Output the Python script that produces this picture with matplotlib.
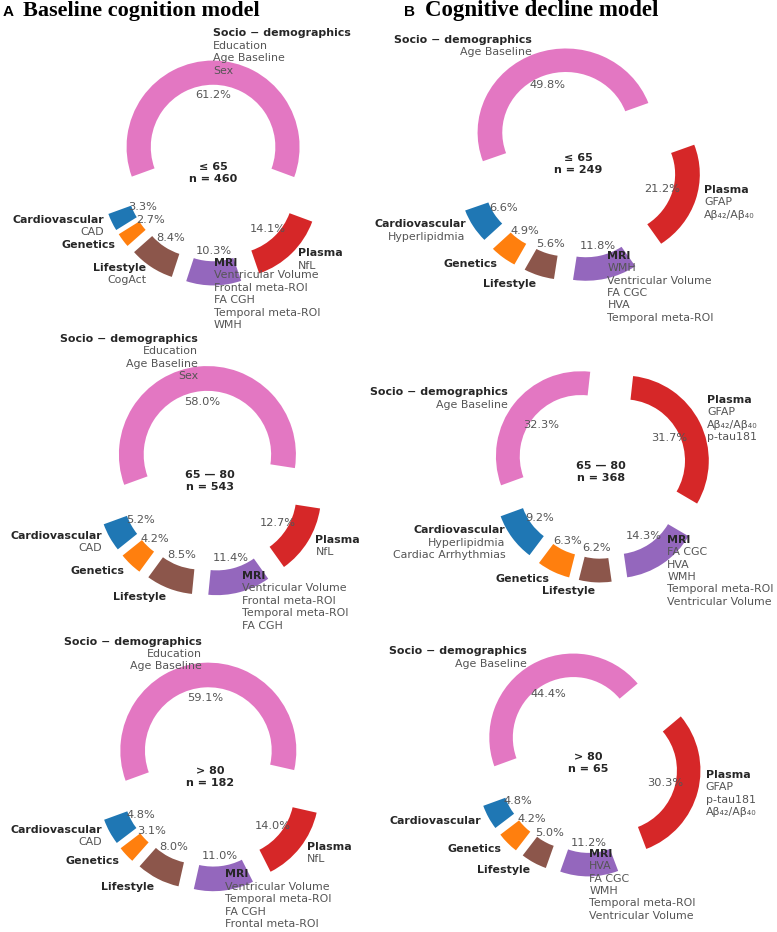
import matplotlib
matplotlib.use('Agg')
import matplotlib.pyplot as plt

# figure size in pixels
W, H = 777, 932

# categories (alphabetical, same order as pie)
cats = ['Cardiovascular', 'Genetics', 'Lifestyle', 'MRI', 'Plasma', 'Socio \u2212 demographics']
colors = ['#1f77b4', '#ff7f0e', '#8c564b', '#9467bd', '#d62728', '#e377c2']

ab = 'A\u03b2\u2084\u2082/A\u03b2\u2084\u2080'

# A  baseline cognition model
a1_vals = [3.3, 2.7, 8.4, 10.3, 14.1, 61.2]
a1_feats = [['CAD'], [], ['CogAct'],
            ['Ventricular Volume', 'Frontal meta-ROI', 'FA CGH', 'Temporal meta-ROI', 'WMH'],
            ['NfL'], ['Education', 'Age Baseline', 'Sex']]
a2_vals = [5.2, 4.2, 8.5, 11.4, 12.7, 58.0]
a2_feats = [['CAD'], [], [],
            ['Ventricular Volume', 'Frontal meta-ROI', 'Temporal meta-ROI', 'FA CGH'],
            ['NfL'], ['Education', 'Age Baseline', 'Sex']]
a3_vals = [4.8, 3.1, 8.0, 11.0, 14.0, 59.1]
a3_feats = [['CAD'], [], [],
            ['Ventricular Volume', 'Temporal meta-ROI', 'FA CGH', 'Frontal meta-ROI'],
            ['NfL'], ['Education', 'Age Baseline']]

# B  cognitive decline model
b1_vals = [6.6, 4.9, 5.6, 11.8, 21.2, 49.8]
b1_feats = [['Hyperlipidmia'], [], [],
            ['WMH', 'Ventricular Volume', 'FA CGC', 'HVA', 'Temporal meta-ROI'],
            ['GFAP', ab], ['Age Baseline']]
b2_vals = [9.2, 6.3, 6.2, 14.3, 31.7, 32.3]
b2_feats = [['Hyperlipidmia', 'Cardiac Arrhythmias'], [], [],
            ['FA CGC', 'HVA', 'WMH', 'Temporal meta-ROI', 'Ventricular Volume'],
            ['GFAP', ab, 'p-tau181'], ['Age Baseline']]
b3_vals = [4.8, 4.2, 5.0, 11.2, 30.3, 44.4]
b3_feats = [[], [], [],
            ['HVA', 'FA CGC', 'WMH', 'Temporal meta-ROI', 'Ventricular Volume'],
            ['GFAP', 'p-tau181', ab], ['Age Baseline']]

groups = ['\u2264 65\nn = 460', '65 \u2014 80\nn = 543', '> 80\nn = 182',
          '\u2264 65\nn = 249', '65 \u2014 80\nn = 368', '> 80\nn = 65']

fig = plt.figure(figsize=(W / 100, H / 100), dpi=100)

LS = 1.3   # line spacing of the label blocks


def donut(vals, feats, center, cx, cy, R, expl, sx=1.0):
    ax = fig.add_axes([(cx - 1.25 * R * sx) / W, 1 - (cy + 1.25 * R) / H,
                       2.5 * R * sx / W, 2.5 * R / H])
    names = [c + '\n' * len(f) for c, f in zip(cats, feats)]
    wedges, texts, autotexts = ax.pie(vals, labels=names, colors=colors,
                                      explode=[expl] * len(vals), startangle=200,
                                      autopct='%1.1f%%', pctdistance=0.6,
                                      labeldistance=1.1,
                                      wedgeprops=dict(width=0.28, linewidth=0))
    ax.set_aspect('auto')
    ax.set_xlim(-1.25, 1.25)
    ax.set_ylim(-1.25, 1.25)
    for t, f in zip(texts, feats):
        t.set_fontsize(7.9)
        t.set_fontweight('bold')
        t.set_color('#262626')
        t.set_linespacing(LS)
        if f:
            x, y = t.get_position()
            ax.text(x, y, '\n' + '\n'.join(f), ha=t.get_ha(), va='center',
                    fontsize=7.9, color='#555555', linespacing=LS)
    for t in autotexts:
        t.set_fontsize(8.2)
        t.set_color('#555555')
    ax.text(0, 0, center, ha='center', va='center', fontsize=8,
            fontweight='bold', color='#262626')


donut(a1_vals, a1_feats, groups[0], 213, 173, 86.5, 0.30)
donut(a2_vals, a2_feats, groups[1], 210, 481, 88.5, 0.30)
donut(a3_vals, a3_feats, groups[2], 210, 777, 88.0, 0.30)
donut(b1_vals, b1_feats, groups[3], 578, 164, 84.0, 0.40, sx=1.05)
donut(b2_vals, b2_feats, groups[4], 601, 472, 85.0, 0.30)
donut(b3_vals, b3_feats, groups[5], 588, 763, 84.0, 0.35)

# panel titles
fig.text(3 / W, 1 - 16 / H, 'A', fontsize=11, fontweight='bold',
         family='Liberation Sans', va='baseline')
fig.text(23 / W, 1 - 16 / H, 'Baseline cognition model', fontsize=16,
         fontweight='bold', family='Liberation Serif', va='baseline')
fig.text(404 / W, 1 - 16 / H, 'B', fontsize=11, fontweight='bold',
         family='Liberation Sans', va='baseline')
fig.text(425 / W, 1 - 16 / H, 'Cognitive decline model', fontsize=16.5,
         fontweight='bold', family='Liberation Serif', va='baseline')

fig.savefig('out.png', dpi=100)
